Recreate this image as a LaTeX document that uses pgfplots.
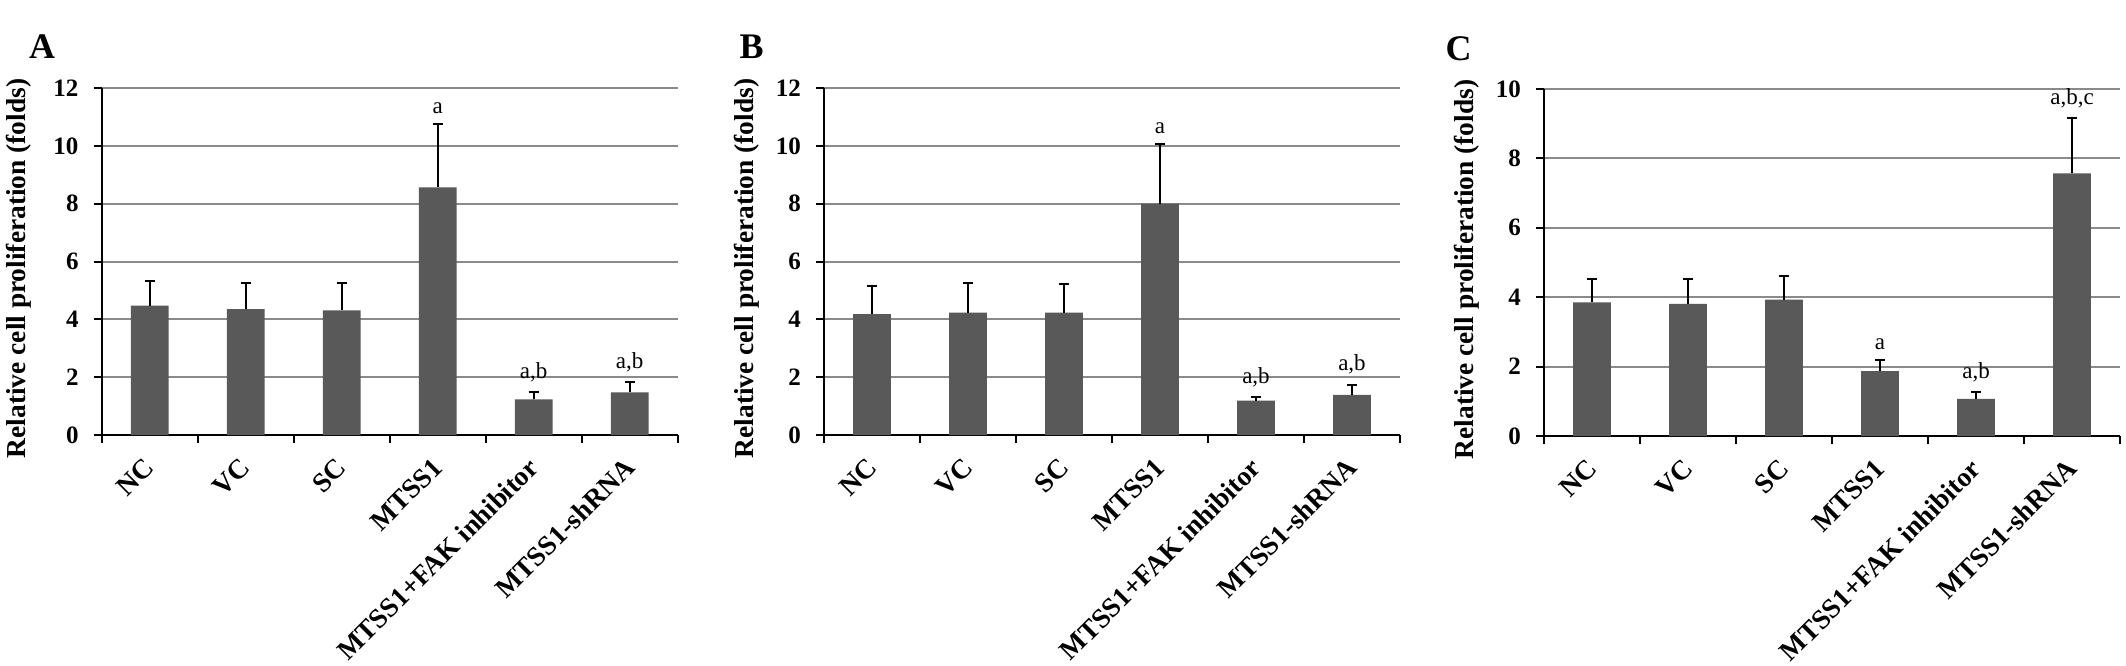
\documentclass[border=0pt]{standalone}
\usepackage{fontspec}
\setmainfont{Liberation Serif}
\usepackage{pgfplots}
\usepackage{pgfplotstable}
\pgfplotsset{compat=1.18}

\definecolor{bargray}{HTML}{595959}
\definecolor{gridgray}{HTML}{8A8A8A}

\pgfplotstableread{
x y e
0 4.47 0.85
1 4.35 0.91
2 4.31 0.95
3 8.56 2.21
4 1.23 0.24
5 1.47 0.36
}\dataA
\pgfplotstableread{
x t lab
3 10.77 a
4 1.47 a,b
5 1.83 a,b
}\labA
\pgfplotstableread{
x y e
0 4.18 0.99
1 4.23 1.04
2 4.23 1.00
3 8.00 2.06
4 1.19 0.13
5 1.39 0.35
}\dataB
\pgfplotstableread{
x t lab
3 10.06 a
4 1.32 a,b
5 1.74 a,b
}\labB
\pgfplotstableread{
x y e
0 3.85 0.67
1 3.81 0.71
2 3.93 0.67
3 1.87 0.33
4 1.07 0.20
5 7.57 1.60
}\dataC
\pgfplotstableread{
x t lab
3 2.20 a
4 1.27 a,b
5 9.17 a,b,c
}\labC

\pgfplotsset{
  panel/.style={
    scale only axis, width=576pt, height=347pt, anchor=south west,
    xmin=-0.5, xmax=5.5, ymin=0, clip=false,
    axis x line*=bottom, axis y line*=left,
    axis line style={line width=2.2pt, black},
    ymajorgrids, grid style={gridgray, line width=2pt},
    tick align=outside, major tick length=8pt,
    tick style={black, line width=2pt},
    /pgf/number format/assume math mode=true,
    yticklabel style={font=\fontsize{25}{25}\selectfont\bfseries, anchor=east, inner sep=0pt, xshift=-15pt},
    xtick={-0.5,0.5,...,5.5},
    xticklabels={NC,VC,SC,MTSS1,MTSS1+FAK inhibitor,MTSS1-shRNA,{}},
    xticklabel style={font=\fontsize{27.5}{27.5}\selectfont\bfseries, inner sep=0pt, xshift=48pt, yshift=-20pt, rotate=45, anchor=east},
    ylabel={Relative cell proliferation (folds)},
    ylabel style={font=\fontsize{27.4}{27.4}\selectfont\bfseries},
    title style={font=\fontsize{36}{36}\selectfont\bfseries, anchor=base west},
  },
  bars/.style={ybar, bar width=37.6pt, fill=bargray, draw=none,
    error bars/.cd, y dir=plus, y explicit,
    error bar style={line width=2pt, black},
    error mark options={rotate=90, mark size=5pt, line width=2pt, black}},
  annot/.style={draw=none, nodes near coords, point meta=explicit symbolic,
    nodes near coords style={font=\fontsize{23}{23}\selectfont, anchor=south, inner sep=0pt, yshift=10pt, black}},
}

\begin{document}
\begin{tikzpicture}
\path[use as bounding box] (0,0) rectangle (2126pt,665pt);

\begin{axis}[panel, at={(101.7pt,230pt)}, ymax=12, ytick={0,2,...,12},
  title=A, title style={at={([xshift=-76pt,yshift=23pt]axis description cs:0,1)}},
  ylabel style={at={([xshift=-83pt]axis description cs:0,0.48)}, anchor=center}]
\addplot[bars] table[x=x, y=y, y error=e] {\dataA};
\addplot[annot] table[x=x, y=t, meta=lab] {\labA};
\end{axis}

\begin{axis}[panel, at={(824pt,230pt)}, ymax=12, ytick={0,2,...,12},
  title=B, title style={at={([xshift=-88pt,yshift=23pt]axis description cs:0,1)}},
  ylabel style={at={([xshift=-77pt]axis description cs:0,0.48)}, anchor=center}]
\addplot[bars] table[x=x, y=y, y error=e] {\dataB};
\addplot[annot] table[x=x, y=t, meta=lab] {\labB};
\end{axis}

\begin{axis}[panel, at={(1544pt,229pt)}, ymax=10, ytick={0,2,...,10},
  title=C, title style={at={([xshift=-102pt,yshift=23pt]axis description cs:0,1)}},
  ylabel style={at={([xshift=-77pt]axis description cs:0,0.48)}, anchor=center}]
\addplot[bars] table[x=x, y=y, y error=e] {\dataC};
\addplot[annot] table[x=x, y=t, meta=lab] {\labC};
\end{axis}
\end{tikzpicture}
\end{document}
